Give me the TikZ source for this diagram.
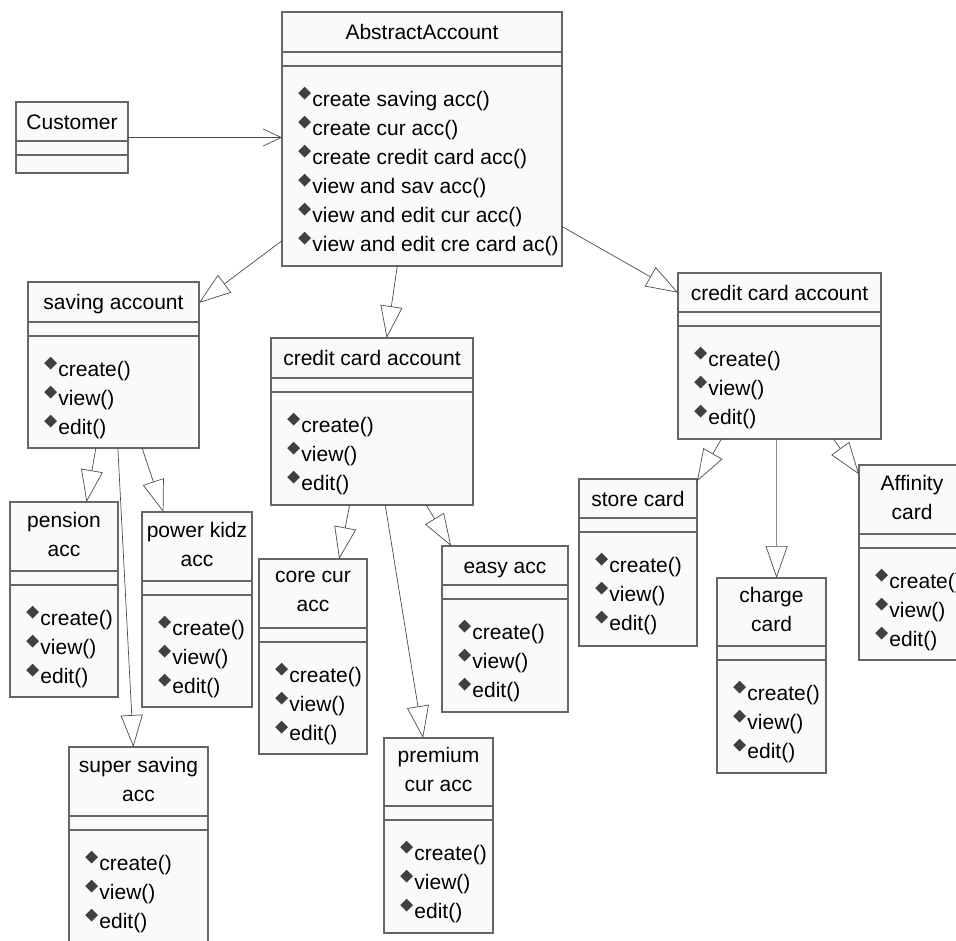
\documentclass[tikz,border=0pt]{standalone}
\usepackage{fontspec}
\setmainfont{Liberation Sans}
\usepackage{graphicx}
\usepackage{tikz}
\usetikzlibrary{arrows.meta,calc}
\newcommand{\opmark}{\raisebox{7pt}{\textcolor{black!75}{\rotatebox{45}{\rule{9pt}{9pt}}}}}
\newcommand{\op}[1]{\strut\opmark\kern1.5pt#1}
\newcommand{\crudops}{\op{create()}\\ \op{view()}\\ \op{edit()}}
% class box: name, top-left corner, width, height, title height, title, operations
\newcommand{\umlclass}[7]{%
  \node[classbox, minimum width=#3pt, minimum height=#4pt] (#1) at (#2) {};
  \draw[divider] ($(#1.north west)+(0,#5)$) -- ($(#1.north east)+(0,#5)$);
  \draw[divider] ($(#1.north west)+(0,#5+14)$) -- ($(#1.north east)+(0,#5+14)$);
  \node[titletext] (#1-title) at ($(#1.north)+(0,#5/2+2)$) {#6};
  \node[opstext] (#1-ops) at ($(#1.north west)+(16,#5+34)$) {#7};
}

\begin{document}
\begin{tikzpicture}[
    x=1pt, y=-1pt,
    classbox/.style={draw=black!60, fill=black!2, line width=1.2pt, inner sep=0pt, outer sep=0pt, anchor=north west},
    divider/.style={draw=black!60, line width=1.2pt},
    titletext/.style={font=\fontsize{21}{29}\selectfont, align=center, inner sep=0pt, execute at begin node=\strut, execute at end node=\strut},
    opstext/.style={font=\fontsize{21}{29}\selectfont, align=left, inner sep=0pt, anchor=north west},
    gen/.style={-{Triangle[open, length=32pt, width=22pt]}, draw=black!70, line width=0.7pt},
    assoc/.style={-{Straight Barb[length=18pt, width=17pt]}, draw=black!70, line width=0.7pt}
]
    \useasboundingbox (0,0) rectangle (956,940);

    % Top level
    \umlclass{abstract}{282,12}{280}{254}{40}{AbstractAccount}{\op{create saving acc()}\\ \op{create cur acc()}\\ \op{create credit card acc()}\\ \op{view and sav acc()}\\ \op{view and edit cur acc()}\\ \op{view and edit cre card ac()}}
    \umlclass{customer}{16,102}{112}{71}{39}{Customer}{}
    \draw[assoc] (customer.east) -- (customer.east -| abstract.west);

    % --- ACCOUNT TYPES ---
    \umlclass{saving}{28,282}{171}{166}{40}{saving account}{\crudops}
    \umlclass{midcredit}{271,338}{202}{167}{40}{credit card account}{\crudops}
    \umlclass{rightcredit}{678,273}{203}{166}{39}{credit card account}{\crudops}

    \draw[gen] (abstract.216.6) -- (saving.36.4);
    \draw[gen] (abstract.259.7) -- (midcredit.80);
    \draw[gen] (abstract.328.7) -- (rightcredit.148.3);

    % --- SAVING ---
    \umlclass{pension}{10,502}{108}{195}{69}{pension\\acc}{\crudops}
    \umlclass{powerkidz}{142,512}{110}{195}{69}{power kidz\\acc}{\crudops}
    \umlclass{supersaving}{69,747}{139}{195}{69}{super saving\\acc}{\crudops}

    \draw[gen] (saving.258.6) -- (pension.77.8);
    \draw[gen] (saving.273.3) -- (supersaving.93.1);
    \draw[gen] (saving.289.7) -- (powerkidz.109.1);

    % --- CURRENT ---
    \umlclass{corecur}{259,559}{108}{195}{69}{core cur\\acc}{\crudops}
    \umlclass{premium}{384,738}{109}{195}{68}{premium\\cur acc}{\crudops}
    \umlclass{easy}{442,546}{126}{166}{39}{easy acc}{\crudops}

    \draw[gen] (midcredit.255.2) -- (corecur.75.5);
    \draw[gen] (midcredit.279.5) -- (premium.99.2);
    \draw[gen] (midcredit.303.5) -- (easy.123);

    % --- CARDS ---
    \umlclass{store}{579,479}{118}{167}{39}{store card}{\crudops}
    \umlclass{charge}{717,578}{109}{195}{68}{charge\\card}{\crudops}
    \umlclass{affinity}{859,465}{106}{195}{69}{Affinity\\card}{\crudops}

    \draw[gen] (rightcredit.235.9) -- (store.54.9);
    \draw[gen] (rightcredit.268.5) -- (charge.87.9);
    \draw[gen] (rightcredit.303.8) -- (affinity.121.7);
\end{tikzpicture}
\end{document}
